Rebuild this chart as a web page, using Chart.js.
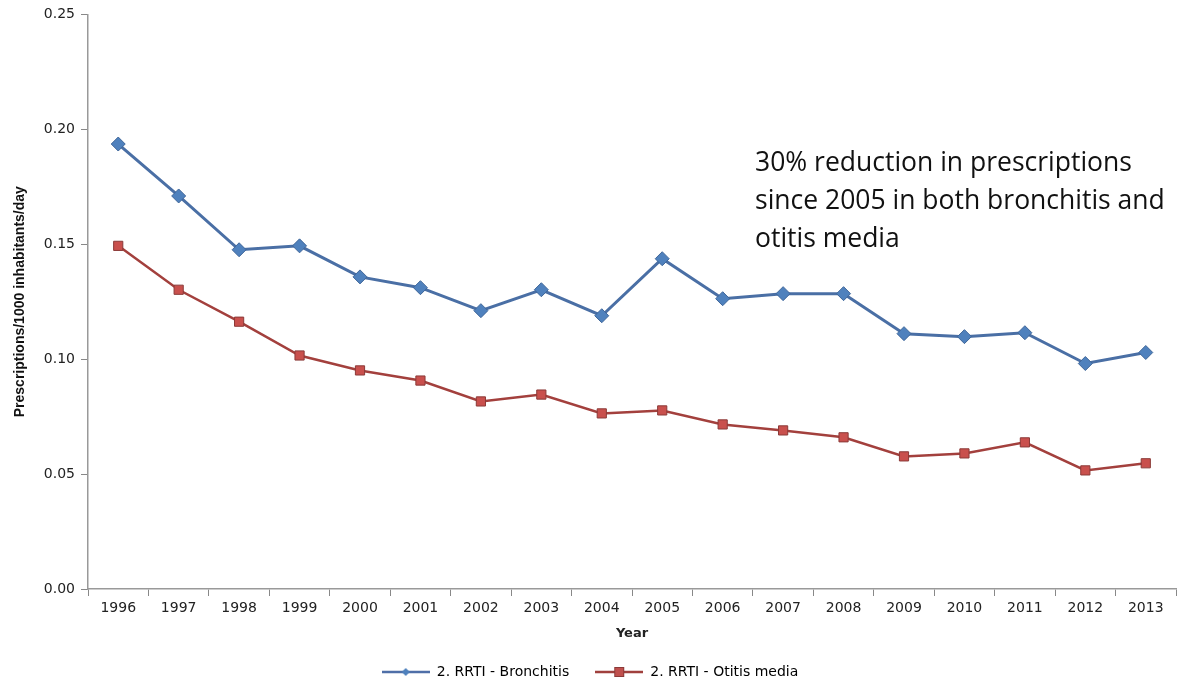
<!DOCTYPE html>
<html>
<head>
<meta charset="utf-8">
<script src="https://cdn.jsdelivr.net/npm/chart.js@4"></script>
<style>
  html, body { margin: 0; padding: 0; background: #fff; }
  #wrap { position: relative; width: 1184px; height: 683px; }
  #note { position: absolute; left: 755px; top: 142px; font-family: "Open Sans", "Noto Sans", sans-serif; font-size: 26.5px; line-height: 38px; color: #111; white-space: nowrap; }
</style>
</head>
<body>
<div id="wrap">
  <canvas id="c" width="1184" height="683"></canvas>
  <div id="note">30% reduction in prescriptions<br>since 2005 in both bronchitis and<br>otitis media</div>
</div>
<script>
const years = ["1996","1997","1998","1999","2000","2001","2002","2003","2004","2005","2006","2007","2008","2009","2010","2011","2012","2013"];
const bronchitis = [0.1936,0.171,0.1476,0.1493,0.1358,0.1311,0.1211,0.1302,0.1189,0.1437,0.1263,0.1285,0.1285,0.1111,0.1098,0.1115,0.0981,0.1029];
const otitis = [0.1493,0.1302,0.1163,0.1016,0.0951,0.0907,0.0816,0.0846,0.0764,0.0777,0.0716,0.069,0.066,0.0577,0.059,0.0638,0.0516,0.0547];
const yTicks = [0, 0.05, 0.10, 0.15, 0.20, 0.25];

function legendIcon(color, fill, style) {
  const cv = document.createElement('canvas');
  cv.width = 48; cv.height = 12;
  const g = cv.getContext('2d');
  g.strokeStyle = color; g.lineWidth = 2.5;
  g.beginPath(); g.moveTo(0, 6); g.lineTo(48, 6); g.stroke();
  g.fillStyle = fill;
  if (style === 'diamond') {
    g.beginPath(); g.moveTo(24, 2); g.lineTo(28, 6); g.lineTo(24, 10); g.lineTo(20, 6); g.closePath(); g.fill();
  } else {
    g.fillRect(19, 1, 10, 10);
    g.strokeStyle = '#8B3A38'; g.lineWidth = 1; g.strokeRect(19.5, 1.5, 9, 9);
  }
  return cv;
}
const icons = [legendIcon('#4F6FA8', '#4F81BD', 'diamond'), legendIcon('#A0403D', '#C0504D', 'square')];
const tickFont = { family: '"DejaVu Sans", Verdana, sans-serif', size: 14 };

new Chart(document.getElementById('c'), {
  type: 'line',
  data: {
    labels: years,
    datasets: [
      {
        label: '2. RRTI - Bronchitis',
        data: bronchitis,
        borderColor: '#4A6FA5',
        backgroundColor: '#4F81BD',
        borderWidth: 3,
        pointStyle: 'rectRot',
        pointRadius: 7,
        pointBorderColor: '#3F6699',
        pointBorderWidth: 1,
        pointBackgroundColor: '#4F81BD',
        tension: 0
      },
      {
        label: '2. RRTI - Otitis media',
        data: otitis,
        borderColor: '#A3403D',
        backgroundColor: '#C0504D',
        borderWidth: 2.5,
        pointStyle: 'rect',
        pointRadius: 6.5,
        pointBorderColor: '#8B3A38',
        pointBorderWidth: 1,
        pointBackgroundColor: '#C9504D',
        tension: 0
      }
    ]
  },
  options: {
    responsive: false,
    animation: false,
    layout: { padding: { left: 0, right: 4, top: 13, bottom: -6 } },
    plugins: {
      legend: {
        position: 'bottom',
        labels: {
          usePointStyle: true,
          pointStyleWidth: 48,
          boxHeight: 12,
          padding: 26,
          color: '#222',
          font: { family: '"DejaVu Sans", Verdana, sans-serif', size: 14 },
          generateLabels: (chart) => chart.data.datasets.map((ds, i) => ({
            text: ds.label,
            pointStyle: icons[i],
            fillStyle: ds.backgroundColor,
            strokeStyle: ds.borderColor,
            lineWidth: 0,
            datasetIndex: i,
            hidden: false
          }))
        }
      },
      tooltip: { enabled: false }
    },
    scales: {
      x: {
        offset: true,
        afterFit: (axis) => { axis.height = 50; },
        grid: { display: true, drawOnChartArea: false, offset: true, tickLength: 7, color: '#888' },
        border: { color: '#999', width: 1.5 },
        ticks: { color: '#222', font: tickFont, maxRotation: 0, autoSkip: false, padding: 4 },
        title: { display: true, text: 'Year', color: '#222', font: { family: '"DejaVu Sans", Verdana, sans-serif', size: 13, weight: 'bold' }, padding: { top: 0, bottom: -2 } }
      },
      y: {
        min: 0, max: 0.25,
        afterFit: (axis) => { axis.width = 88; },
        afterBuildTicks: (axis) => { axis.ticks = yTicks.map(v => ({ value: v })); },
        grid: { display: true, drawOnChartArea: false, tickLength: 7, color: '#888' },
        border: { color: '#999', width: 1.5 },
        ticks: { color: '#222', font: tickFont, padding: 6, callback: (v) => Number(v).toFixed(2) },
        title: { display: true, text: 'Prescriptions/1000 inhabitants/day', color: '#111', font: { family: '"Liberation Sans", Arial, sans-serif', size: 14, weight: 'bold' }, padding: { top: 12, bottom: 0 } }
      }
    }
  }
});
</script>
</body>
</html>
